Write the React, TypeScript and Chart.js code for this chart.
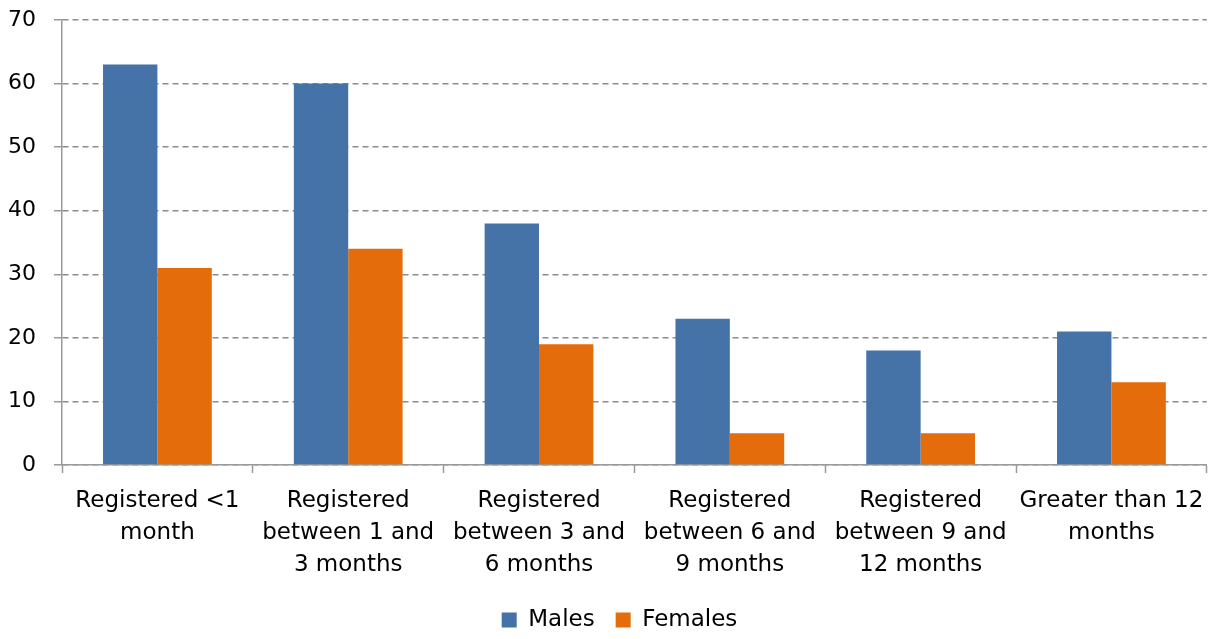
import React, { useEffect, useRef } from "react";
import { Chart, registerables } from "chart.js";

Chart.register(...registerables);

const categories: string[][] = [
  ["Registered <1", "month"],
  ["Registered", "between 1 and", "3 months"],
  ["Registered", "between 3 and", "6 months"],
  ["Registered", "between 6 and", "9 months"],
  ["Registered", "between 9 and", "12 months"],
  ["Greater than 12", "months"],
];
const males: number[] = [63, 60, 38, 23, 18, 21];
const females: number[] = [31, 34, 19, 5, 5, 13];

const FONT = "'DejaVu Sans', Verdana, sans-serif";

const shiftLegend = {
  id: "shiftLegend",
  afterLayout(chart: any) {
    const lg = chart.legend;
    if (lg) {
      lg.left += 12;
      lg.right += 12;
    }
  },
};

export default function App() {
  const ref = useRef<HTMLCanvasElement | null>(null);
  useEffect(() => {
    if (!ref.current) return;
    const chart = new Chart(ref.current, {
      type: "bar",
      data: {
        labels: categories,
        datasets: [
          { label: "Males", data: males, backgroundColor: "#4573A7", borderWidth: 0 },
          { label: "Females", data: females, backgroundColor: "#E46C0A", borderWidth: 0 },
        ],
      },
      plugins: [shiftLegend],
      options: {
        animation: false,
        responsive: true,
        maintainAspectRatio: false,
        layout: { padding: { top: 0, right: 8, left: 7, bottom: -2.5 } },
        datasets: { bar: { categoryPercentage: 0.57, barPercentage: 1.0 } },
        plugins: {
          tooltip: { enabled: false },
          legend: {
            position: "bottom",
            labels: {
              color: "#000",
              font: { family: FONT, size: 23 },
              boxWidth: 15,
              boxHeight: 15,
              padding: 21,
            },
          },
        },
        scales: {
          x: {
            grid: {
              display: true,
              drawOnChartArea: false,
              drawTicks: true,
              tickLength: 8,
              tickColor: "#9a9a9a",
              tickWidth: 1.5,
              offset: true,
            },
            border: { display: true, color: "#9a9a9a", width: 1.5 },
            ticks: {
              color: "#000",
              font: { family: FONT, size: 23, lineHeight: 1.39 },
              padding: 12,
              maxRotation: 0,
              autoSkip: false,
            },
            afterFit: (scale: any) => {
              scale.height = 122.5;
            },
          },
          y: {
            min: 0,
            max: 70,
            grid: {
              color: "#8c8c8c",
              lineWidth: 1.5,
              drawTicks: true,
              tickLength: 8,
              tickColor: "#9a9a9a",
              tickWidth: 1.5,
              tickBorderDash: [],
            },
            border: { display: true, color: "#9a9a9a", width: 1.5, dash: [6, 4] },
            ticks: {
              stepSize: 10,
              color: "#000",
              font: { family: FONT, size: 22 },
              padding: 18,
            },
            afterFit: (scale: any) => {
              scale.width = 55;
              scale.paddingTop = 20;
              scale.paddingBottom = 0;
            },
          },
        },
      },
    });
    return () => chart.destroy();
  }, []);
  return (
    <div style={{ position: "fixed", left: 0, top: 0, width: 1216, height: 639, background: "#fff" }}>
      <canvas ref={ref} />
    </div>
  );
}
